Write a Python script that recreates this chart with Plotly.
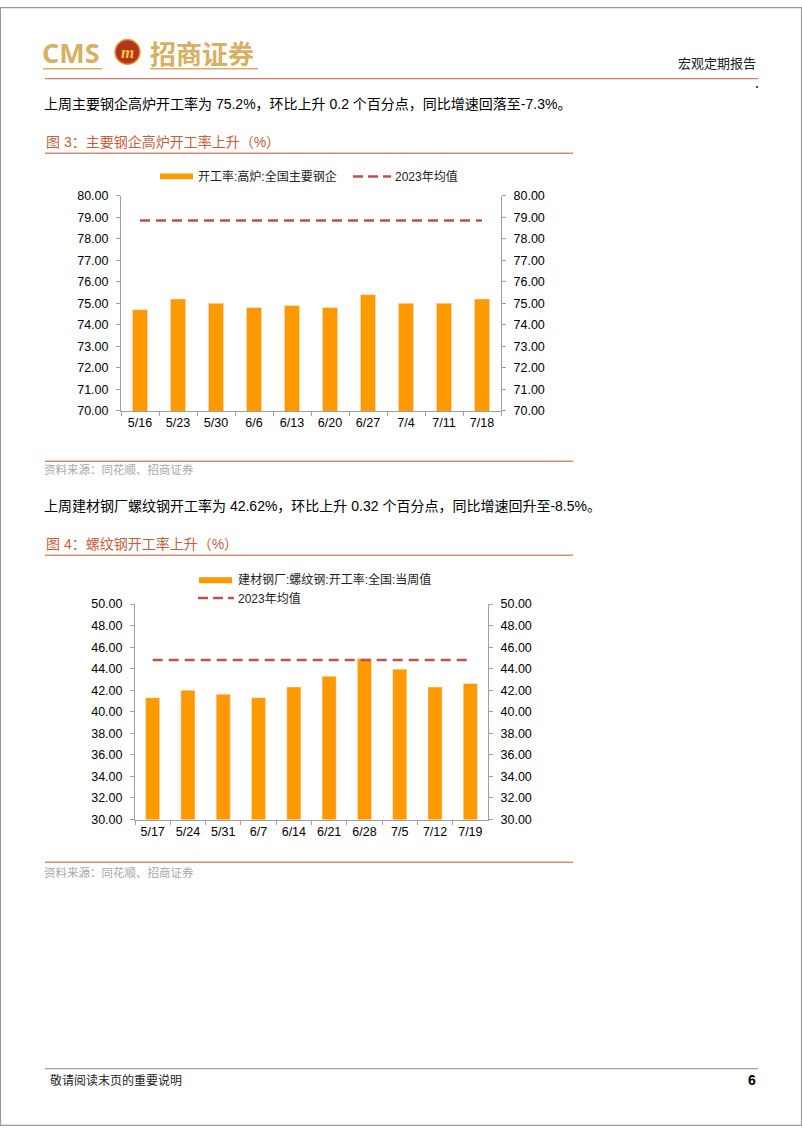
import plotly.graph_objects as go

W, H = 802, 1133

# ---------------- data ----------------
cats1 = ["5/16", "5/23", "5/30", "6/6", "6/13", "6/20", "6/27", "7/4", "7/11", "7/18"]
bf_rate = [74.7, 75.2, 75.0, 74.8, 74.9, 74.8, 75.4, 75.0, 75.0, 75.2]
bf_avg2023 = [78.85, 78.85, 78.85, 78.85, 78.85, 78.85, 78.85, 78.85, 78.85, 78.85]

cats2 = ["5/17", "5/24", "5/31", "6/7", "6/14", "6/21", "6/28", "7/5", "7/12", "7/19"]
rebar_rate = [41.30, 42.00, 41.62, 41.30, 42.30, 43.30, 44.93, 43.95, 42.30, 42.62]
rebar_avg2023 = [44.8, 44.8, 44.8, 44.8, 44.8, 44.8, 44.8, 44.8, 44.8, 44.8]

name_bar1 = "开工率:高炉:全国主要钢企"
name_bar2 = "建材钢厂:螺纹钢:开工率:全国:当周值"
name_avg = "2023年均值"

# ---------------- style ----------------
ORANGE = "#FF9900"
RED = "#C0504D"
AXIS = "#A0A0A0"
TITLE_C = "#C4603C"
RULE_C = "#DC8A70"
GOLD = "#D7B063"
NUM_FONT = "Liberation Sans, Arial, sans-serif"
CJK = "Noto Sans CJK SC"


def px(x):
    return x / W


def py(y):
    return 1 - y / H


fig = go.Figure()

# Chart 1
fig.add_trace(go.Bar(x=cats1, y=bf_rate, name=name_bar1, marker_color=ORANGE,
                     width=0.4, xaxis="x", yaxis="y", showlegend=False))
fig.add_trace(go.Scatter(x=cats1, y=bf_avg2023, name=name_avg, mode="lines",
                         line=dict(color=RED, width=2.5, dash="10px,6px"),
                         xaxis="x", yaxis="y2", showlegend=False))
# Chart 2
fig.add_trace(go.Bar(x=cats2, y=rebar_rate, name=name_bar2, marker_color=ORANGE,
                     width=0.4, xaxis="x2", yaxis="y3", showlegend=False))
fig.add_trace(go.Scatter(x=cats2, y=rebar_avg2023, name=name_avg, mode="lines",
                         line=dict(color=RED, width=2.5, dash="10px,6px"),
                         xaxis="x2", yaxis="y4", showlegend=False))

tickfont = dict(family=NUM_FONT, size=12.5, color="#000000")


def xax(domain, anchor):
    return dict(domain=domain, anchor=anchor, type="category", showline=True,
                linecolor=AXIS, linewidth=1, ticks="outside", tickson="boundaries",
                ticklen=4, tickcolor=AXIS, tickfont=tickfont, showgrid=False,
                zeroline=False, fixedrange=True)


def yax(domain, rng, dtick, side, anchor, overlaying=None):
    d = dict(domain=domain, range=rng, dtick=dtick, tick0=rng[0], tickformat=".2f",
             showline=True, linecolor=AXIS, linewidth=1, ticks="outside", ticklen=4,
             tickcolor=AXIS, tickfont=tickfont, showgrid=False, zeroline=False,
             side=side, anchor=anchor, fixedrange=True, ticklabelstandoff=5)
    if overlaying:
        d["overlaying"] = overlaying
    return d


x1d = [px(121), px(501)]
y1d = [py(409), py(191)]
x2d = [px(135), px(488)]
y2d = [py(822.7), py(604.5)]

fig.update_layout(
    width=W, height=H,
    margin=dict(l=0, r=0, t=0, b=0),
    paper_bgcolor="white", plot_bgcolor="rgba(0,0,0,0)",
    xaxis=xax(x1d, "y"),
    yaxis=yax(y1d, [70, 80], 1, "left", "x"),
    yaxis2=yax(y1d, [70, 80], 1, "right", "x", overlaying="y"),
    xaxis2=xax(x2d, "y3"),
    yaxis3=yax(y2d, [30, 50], 2, "left", "x2"),
    yaxis4=yax(y2d, [30, 50], 2, "right", "x2", overlaying="y3"),
    bargap=0.6,
)

shapes = []
ann = []


def hline(x0, x1, y, color, width=1, dash=None):
    line = dict(color=color, width=width)
    if dash:
        line["dash"] = dash
    shapes.append(dict(type="line", xref="paper", yref="paper", x0=px(x0), x1=px(x1),
                       y0=py(y), y1=py(y), line=line))


def text(x, y, s, size, color="#000000", family=CJK, xanchor="left", bold=False):
    if bold:
        s = "<b>" + s + "</b>"
    ann.append(dict(x=px(x), y=py(y), xref="paper", yref="paper", text=s, showarrow=False,
                    xanchor=xanchor, yanchor="middle", align="left",
                    font=dict(size=size, color=color, family=family)))


def rect(x0, y0, x1, y1, fill):
    shapes.append(dict(type="rect", xref="paper", yref="paper", x0=px(x0), x1=px(x1),
                       y0=py(y1), y1=py(y0), fillcolor=fill, line=dict(width=0)))


# page border
shapes.append(dict(type="rect", xref="paper", yref="paper", x0=0.0006, x1=0.9994,
                   y0=0.0005, y1=0.9995, line=dict(color="#9A9A9A", width=1.2)))

# header / logo
text(40, 46, "CMS", 27, GOLD, "Open Sans, Liberation Sans, sans-serif", bold=True)
shapes.append(dict(type="circle", xref="paper", yref="paper", x0=px(115), x1=px(140),
                   y0=py(58), y1=py(33), fillcolor="#B4361A",
                   line=dict(color="#E0A040", width=1.5)))
text(127.5, 46, "<i>m</i>", 17, "#F5C542", "Liberation Serif, serif", xanchor="center", bold=True)
text(148, 46, "招商证券", 26, GOLD, CJK, bold=True)
hline(43, 102, 62.5, GOLD, 1.5)
hline(150, 258, 62.5, GOLD, 1.5)
text(758, 56, "宏观定期报告", 13, "#222222", CJK, xanchor="right")
hline(45, 758, 72.5, "#E07A68", 1.2)
text(757, 80, "·", 10, "#333333", CJK, xanchor="center")

body_font = "Liberation Sans, " + CJK
# text 1
text(42, 98, "上周主要钢企高炉开工率为 75.2%，环比上升 0.2 个百分点，同比增速回落至-7.3%。", 14, "#000000", body_font)
# figure 3 title
text(44, 137, "图 3：主要钢企高炉开工率上升（%）", 14, TITLE_C, body_font)
hline(45, 573, 148, RULE_C, 1.5)
# legend 1
rect(160, 168.5, 193, 174.5, ORANGE)
text(196, 171.5, name_bar1, 12, "#222222", body_font)
hline(353, 391, 171.5, RED, 2.5, "10px,5px")
text(393, 171.5, name_avg, 12, "#222222", body_font)
# source 1
hline(45, 573, 460, RULE_C, 1.5)
text(42, 468, "资料来源：同花顺、招商证券", 11.5, "#A8A8A8", CJK)

# text 2
text(42, 505, "上周建材钢厂螺纹钢开工率为 42.62%，环比上升 0.32 个百分点，同比增速回升至-8.5%。", 14, "#000000", body_font)
# figure 4 title
text(44, 544, "图 4：螺纹钢开工率上升（%）", 14, TITLE_C, body_font)
hline(45, 573, 555, RULE_C, 1.5)
# legend 2
rect(199, 577.5, 232, 583.5, ORANGE)
text(236, 580, name_bar2, 12, "#222222", body_font)
hline(198, 234, 598.5, RED, 2.5, "10px,5px")
text(236, 598.5, name_avg, 12, "#222222", body_font)
# source 2
hline(45, 573, 866, RULE_C, 1.5)
text(42, 876, "资料来源：同花顺、招商证券", 11.5, "#A8A8A8", CJK)

# footer
hline(45, 758, 1075, "#A0A0A0", 1.2)
text(48, 1086, "敬请阅读末页的重要说明", 12, "#222222", CJK)
text(758, 1086, "6", 14, "#000000", "Liberation Sans, Arial, sans-serif", xanchor="right", bold=True)

fig.update_layout(shapes=shapes, annotations=ann)

fig.write_html("out.html")
